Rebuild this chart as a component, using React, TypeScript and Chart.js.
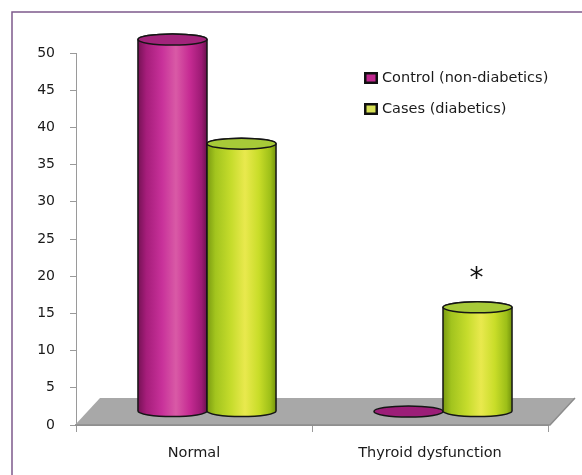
import React, { useEffect, useRef } from 'react';
import { Chart, registerables } from 'chart.js';

Chart.register(...registerables);

// ---- data ----
const categories = ['Normal', 'Thyroid dysfunction'];
const seriesLabels = ['Control (non-diabetics)', 'Cases (diabetics)'];
const controlValues = [50, 0];
const casesValues = [36, 14];
const caseMarks = ['', '*'];
const yMin = 0;
const yMax = 50;
const yStep = 5;

const FONT = '"DejaVu Sans", Verdana, sans-serif';
const DEPTH_X = 25;
const DEPTH_Y = 27;

const palettes = [
  {
    stops: ['#761255', '#a51d7a', '#c8319a', '#d95aa6', '#c62b93', '#9c1a74', '#6a114d'],
    top: '#a2247b',
    flat: '#9c1e78',
    legend: '#c0288f',
  },
  {
    stops: ['#7a9b12', '#a2c41e', '#c6dc2c', '#e9e94e', '#c9dd29', '#9dbf18', '#74940d'],
    top: '#a7ca38',
    flat: '#a7ca38',
    legend: '#d8e157',
  },
];
const stopPos = [0, 0.12, 0.35, 0.55, 0.75, 0.92, 1];

function drawCylinder(ctx: CanvasRenderingContext2D, cx: number, topY: number, baseY: number, w: number, pal: any) {
  const rx = w / 2;
  const ry = 5.5;
  const L = cx - rx;
  const R = cx + rx;
  ctx.save();
  ctx.lineWidth = 1.5;
  ctx.strokeStyle = '#151515';
  if (baseY - topY < 1) {
    ctx.beginPath();
    ctx.ellipse(cx, baseY, rx, ry, 0, 0, Math.PI * 2);
    ctx.fillStyle = pal.flat;
    ctx.fill();
    ctx.stroke();
    ctx.restore();
    return;
  }
  const g = ctx.createLinearGradient(L, 0, R, 0);
  pal.stops.forEach((c: string, i: number) => g.addColorStop(stopPos[i], c));
  ctx.beginPath();
  ctx.moveTo(L, topY);
  ctx.lineTo(L, baseY);
  ctx.ellipse(cx, baseY, rx, ry, 0, Math.PI, 0, true);
  ctx.lineTo(R, topY);
  ctx.ellipse(cx, topY, rx, ry, 0, 0, Math.PI, true);
  ctx.closePath();
  ctx.fillStyle = g;
  ctx.fill();
  ctx.stroke();
  ctx.beginPath();
  ctx.ellipse(cx, topY, rx, ry, 0, 0, Math.PI * 2);
  ctx.fillStyle = pal.top;
  ctx.fill();
  ctx.stroke();
  ctx.restore();
}

const cylinderPlugin = {
  id: 'cylinders3d',
  beforeDraw(chart: any) {
    const { ctx, width, height } = chart;
    ctx.save();
    ctx.fillStyle = '#ffffff';
    ctx.fillRect(0, 0, width, height);
    ctx.strokeStyle = '#7d5a8c';
    ctx.lineWidth = 1.5;
    ctx.strokeRect(12, 12, width + 20, height + 20);
    ctx.restore();
  },
  beforeDatasetsDraw(chart: any) {
    const { ctx, chartArea } = chart;
    const y0 = chart.scales.y.getPixelForValue(0);
    const l = chartArea.left - 1;
    const r = chartArea.right + 2;
    ctx.save();
    ctx.beginPath();
    ctx.moveTo(l, y0);
    ctx.lineTo(l + DEPTH_X, y0 - DEPTH_Y);
    ctx.lineTo(r + DEPTH_X, y0 - DEPTH_Y);
    ctx.lineTo(r, y0);
    ctx.closePath();
    ctx.fillStyle = '#a8a8a8';
    ctx.fill();
    ctx.strokeStyle = '#8c8c8c';
    ctx.lineWidth = 1.5;
    ctx.beginPath();
    ctx.moveTo(l, y0);
    ctx.lineTo(r, y0);
    ctx.lineTo(r + DEPTH_X, y0 - DEPTH_Y);
    ctx.stroke();
    ctx.restore();
  },
  afterDatasetsDraw(chart: any) {
    const { ctx } = chart;
    chart.data.datasets.forEach((ds: any, d: number) => {
      const meta = chart.getDatasetMeta(d);
      meta.data.forEach((el: any) => {
        const p = el.getProps(['x', 'y', 'base', 'width'], true);
        drawCylinder(ctx, p.x + 13, p.y - DEPTH_Y / 2, p.base - DEPTH_Y / 2, p.width, palettes[d]);
      });
    });
    // significance marks on cases
    const meta = chart.getDatasetMeta(1);
    meta.data.forEach((el: any, i: number) => {
      const mark = caseMarks[i];
      if (!mark) return;
      const p = el.getProps(['x', 'y'], true);
      ctx.save();
      ctx.font = `28px ${FONT}`;
      ctx.fillStyle = '#111';
      ctx.textAlign = 'center';
      ctx.textBaseline = 'alphabetic';
      ctx.fillText(mark, p.x + 12, p.y - DEPTH_Y / 2 - 20);
      ctx.restore();
    });
  },
  afterDraw(chart: any) {
    const { ctx } = chart;
    const x0 = 364;
    const ys = [78, 109];
    ctx.save();
    chart.data.datasets.forEach((ds: any, d: number) => {
      const y = ys[d];
      ctx.fillStyle = '#111';
      ctx.fillRect(x0, y - 6, 14, 12);
      ctx.fillStyle = palettes[d].legend;
      ctx.fillRect(x0 + 2.5, y - 3.5, 9, 7);
      ctx.fillStyle = '#1a1a1a';
      ctx.font = `14.5px ${FONT}`;
      ctx.textAlign = 'left';
      ctx.textBaseline = 'middle';
      ctx.fillText(ds.label, x0 + 18, y);
    });
    ctx.restore();
  },
};

export default function App() {
  const ref = useRef<HTMLCanvasElement>(null);
  useEffect(() => {
    if (!ref.current) return;
    const chart = new Chart(ref.current, {
      type: 'bar',
      data: {
        labels: categories,
        datasets: [
          { label: seriesLabels[0], data: controlValues, backgroundColor: 'rgba(0,0,0,0)', borderWidth: 0 },
          { label: seriesLabels[1], data: casesValues, backgroundColor: 'rgba(0,0,0,0)', borderWidth: 0 },
        ],
      },
      options: {
        responsive: false,
        animation: false,
        layout: { padding: { left: 0, top: 53, right: 34, bottom: 0 } },
        datasets: { bar: { barPercentage: 1, categoryPercentage: 0.585 } },
        plugins: { legend: { display: false }, tooltip: { enabled: false } },
        scales: {
          x: {
            grid: { drawOnChartArea: false, tickLength: 7, color: '#9a9a9a', offset: true },
            border: { color: '#9a9a9a' },
            ticks: { font: { family: FONT, size: 14.5 }, color: '#1a1a1a', padding: 13 },
            afterFit: (s: any) => { s.height = 50; },
          },
          y: {
            min: yMin,
            max: yMax,
            grid: { drawOnChartArea: false, tickLength: 6, color: '#9a9a9a' },
            border: { color: '#9a9a9a' },
            ticks: { stepSize: yStep, font: { family: FONT, size: 14 }, color: '#1a1a1a', padding: 15 },
            afterFit: (s: any) => { s.width = 76; },
          },
        },
      },
      plugins: [cylinderPlugin],
    } as any);
    return () => chart.destroy();
  }, []);
  return (
    <canvas
      ref={ref}
      width={582}
      height={475}
      style={{ position: 'fixed', left: 0, top: 0, display: 'block' }}
    />
  );
}
